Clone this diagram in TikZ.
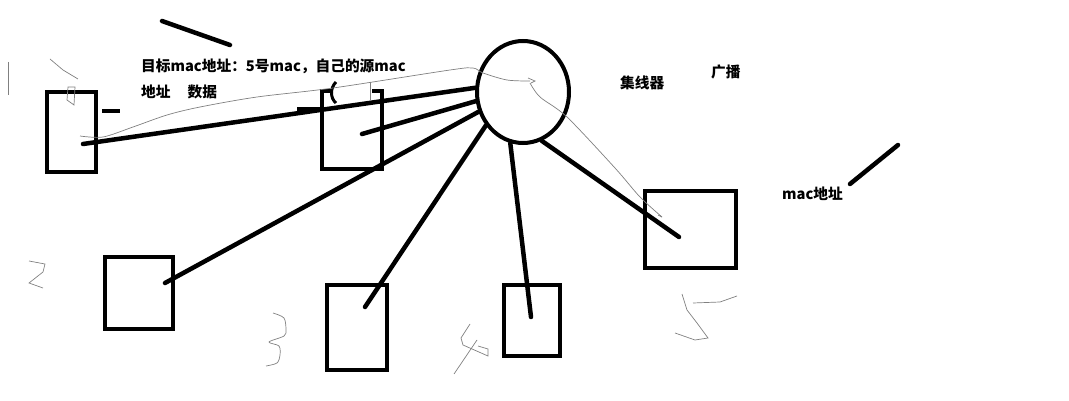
\documentclass[tikz,border=0pt]{standalone}
\usepackage{fontspec}
\newfontfamily\hanzi{Noto Sans CJK SC}
\usetikzlibrary{shapes.geometric}

\tikzstyle{host} = [
        draw,
        rectangle,
        line width=4pt,
        inner sep=0pt
    ]
\tikzstyle{hubs} = [
        draw,
        ellipse,
        line width=4pt,
        inner sep=0pt,
        minimum width=92pt,
        minimum height=102pt
    ]
\tikzstyle{wire} = [line width=4.5pt, line cap=round]
\tikzstyle{pen} = [draw=gray, line width=0.7pt]
\tikzstyle{memo} = [
        font=\hanzi\bfseries\fontsize{14.7}{18}\selectfont,
        inner sep=0pt,
        anchor=west
    ]

\begin{document}
\begin{tikzpicture}[x=1pt, y=-1pt]
        \useasboundingbox (0,0) rectangle (1069,401);
        % hub and hosts
        \node(hubx) [hubs] at (523,92) {};
        \node(pcaa) [host, minimum width=49pt, minimum height=80pt] at (71.5,132) {};
        \node(pcbb) [host, draw=none, minimum width=56pt, minimum height=74pt] at (352,130) {};
        \node(pccc) [host, minimum width=68pt, minimum height=72pt] at (139,293) {};
        \node(pcdd) [host, minimum width=60pt, minimum height=85pt] at (357,327.5) {};
        \node(pcee) [host, minimum width=56pt, minimum height=71pt] at (532,320.5) {};
        \node(pcff) [host, minimum width=91pt, minimum height=77pt] at (690.5,229.5) {};
        \draw[line width=4pt] ([xshift=11pt]pcbb.north west) -- (pcbb.north west)
            -- (pcbb.south west) -- (pcbb.south east) -- (pcbb.north east)
            -- ([xshift=-10pt]pcbb.north east);
        % labels
        \node(dest) [memo] at (141,66) {目标mac地址：5号mac，自己的源mac};
        \node(data) [memo] at (141,92) {地址\hspace{17pt}数据};
        \node(hubt) [memo] at (620,83) {集线器};
        \node(bcst) [memo] at (711,72) {广播};
        \node(maca) [memo] at (782,194) {mac地址};
        % cable ends inside the hosts
        \coordinate(tipa) at (83,144);
        \coordinate(tipb) at (362,134);
        \coordinate(tipc) at (165,283);
        \coordinate(tipd) at (365,307);
        \coordinate(tipe) at (531,317);
        \coordinate(tipf) at (679,237);
        \draw[wire] (hubx.175) -- (tipa);
        \draw[wire] (hubx.191) -- (tipb);
        \draw[wire] (hubx.204) -- (tipc);
        \draw[wire] (hubx.222) -- (tipd);
        \draw[wire] (hubx.256) -- (tipe);
        \draw[wire] (hubx.291) -- (tipf);
        % strokes
        \draw[wire] (162,21) -- (230,45);
        \draw[wire] (850,184) -- (898,145);
        \draw[line width=4pt] (102,111) -- (120,111);
        \draw[line width=4pt] (297,109) -- (320,109);
        \draw[line width=3pt] (336,82) .. controls (330,88) and (330,98) .. (336,103);
        \draw[pen] (370,82) -- (370,100);
        % pencil path of the frame
        \draw[pen] plot[smooth] coordinates {(80,136) (103,137) (133,127) (167,115)
            (200,107) (257,97) (333,88) (450,70) (473,68) (483,73) (507,80) (530,81)};
        \draw[pen] (528,78) -- (535,81) -- (531,83);
        \draw[pen] plot[smooth] coordinates {(530,83) (540,97) (567,117) (615,168)
            (640,197) (662,217)};
        \draw[pen] (662,217) -- (658,215);
        % numbers
        \draw[pen] (8,62) -- (8,95);
        \draw[pen] (50,59) -- (63,70) -- (78,79);
        \draw[pen] (68,87) -- (75,87) -- (74,105) -- (67,100) -- cycle;
        \draw[pen] (29,261) -- (45,264) -- (43,272) -- (29,283) -- (43,288);
        \draw[pen] plot[smooth] coordinates {(273,313) (284,318) (286,330) (284,336)
            (269,342) (279,346) (280,355) (277,363) (266,366)};
        \draw[pen] (470,324) -- (461,338) -- (463,345) -- (488,356) -- (488,349) -- (478,346);
        \draw[pen] (477,340) -- (454,374);
        \draw[pen] (682,294) -- (687,310) -- (697,323) -- (708,338) -- (695,340) -- (675,333);
        \draw[pen] (693,303) -- (720,302) -- (737,296);
    \end{tikzpicture}
\end{document}
